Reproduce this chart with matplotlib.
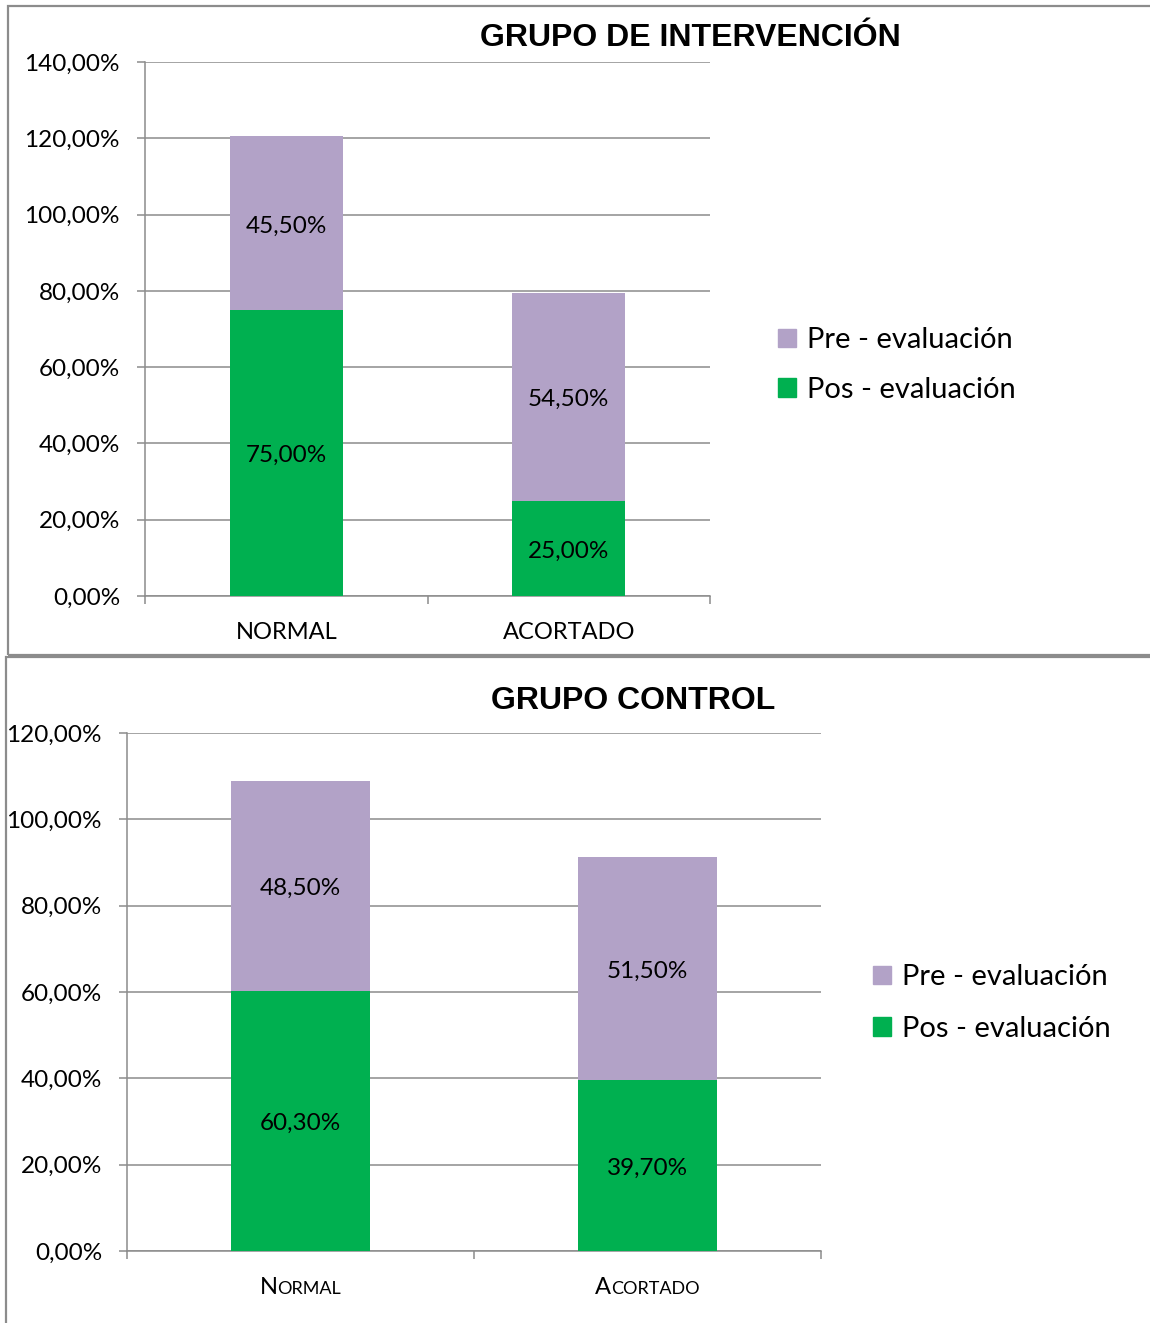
import matplotlib
matplotlib.use("Agg")
import matplotlib.pyplot as plt
from matplotlib.patches import Rectangle, Patch
from matplotlib.ticker import FuncFormatter, FixedLocator
from matplotlib.offsetbox import TextArea, HPacker, AnnotationBbox

plt.rcParams["font.family"] = ["Lato", "DejaVu Sans"]

# data
categories = ["NORMAL", "ACORTADO"]
series_names = ["Pre - evaluación", "Pos - evaluación"]

interv_pos = [75.0, 25.0]
interv_pre = [45.5, 54.5]

control_pos = [60.3, 39.7]
control_pre = [48.5, 51.5]

GREEN = "#00B050"
PURPLE = "#B2A2C7"
GRID = "#8C8C8C"

W, H = 1150, 1323
fig = plt.figure(figsize=(W / 100, H / 100), dpi=100)


def px_axes(x0, y0, x1, y1):
    # pixel box (top-left origin) -> figure fraction
    return fig.add_axes([x0 / W, (H - y1) / H, (x1 - x0) / W, (y1 - y0) / H])


def pct(v, _=None):
    return f"{v:.2f}".replace(".", ",") + "%"


def panel(x0, y0, x1, y1):
    fig.add_artist(Rectangle((x0 / W, (H - y1) / H), (x1 - x0) / W, (y1 - y0) / H,
                             transform=fig.transFigure, fill=False,
                             edgecolor="#8C8C8C", lw=1.6, clip_on=False))


def draw_chart(ax, pos, pre, ymax, title, title_xy, legend_xy, smallcaps, legend_gap):
    x = list(range(len(categories)))
    ax.bar(x, pos, width=0.4, color=GREEN, zorder=3)
    ax.bar(x, pre, width=0.4, bottom=pos, color=PURPLE, zorder=3)
    for xi, p, q in zip(x, pos, pre):
        for yc, v in ((p / 2, p), (p + q / 2, q)):
            ax.annotate(pct(v), (xi, yc), xytext=(0, -2), textcoords="offset points",
                        ha="center", va="center", fontsize=17.5, zorder=4)

    ax.set_xlim(-0.5, len(categories) - 0.5)
    ax.set_ylim(0, ymax)
    ax.yaxis.set_major_locator(FixedLocator(range(0, ymax + 1, 20)))
    ax.yaxis.set_major_formatter(FuncFormatter(pct))
    ax.grid(axis="y", color=GRID, lw=1.1, zorder=0)
    ax.set_axisbelow(True)

    ax.set_xticks(x)
    ax.set_xticklabels([])
    ax.set_xticks([i - 0.5 for i in range(len(categories) + 1)], minor=True)
    ax.tick_params(axis="x", which="major", length=0)
    ax.tick_params(axis="x", which="minor", length=6, color=GRID, width=1.1)
    ax.tick_params(axis="y", length=6, color=GRID, width=1.1, labelsize=17.5, pad=12)

    for s in ("top", "right"):
        ax.spines[s].set_visible(False)
    for s in ("left", "bottom"):
        ax.spines[s].set_color(GRID)
        ax.spines[s].set_linewidth(1.1)

    for xi, name in zip(x, categories):
        if smallcaps:
            parts = [TextArea(name[0], textprops=dict(size=17)),
                     TextArea(name[1:], textprops=dict(size=13))]
        else:
            parts = [TextArea(name, textprops=dict(size=17))]
        box = HPacker(children=parts, align="baseline", pad=0, sep=0)
        ab = AnnotationBbox(box, (xi, 0), xycoords=("data", "axes fraction"),
                            xybox=(0, -26.5), boxcoords="offset points",
                            frameon=False, box_alignment=(0.5, 0.5))
        ax.add_artist(ab)

    fig.text(title_xy[0] / W, 1 - title_xy[1] / H, title, ha="center", va="center",
             fontsize=23, fontweight="bold", family=["Liberation Sans", "DejaVu Sans"])

    handles = [Patch(color=PURPLE), Patch(color=GREEN)]
    fig.legend(handles, series_names, loc="center left",
               bbox_to_anchor=(legend_xy[0] / W, 1 - legend_xy[1] / H),
               frameon=False, fontsize=21, handlelength=0.6, handleheight=0.6,
               handletextpad=0.4, labelspacing=legend_gap, borderpad=0, borderaxespad=0)


panel(8, 6, 1165, 655)
panel(6, 657, 1165, 1335)

ax1 = px_axes(145, 62, 710, 596)
draw_chart(ax1, interv_pos, interv_pre, 140, "GRUPO DE INTERVENCIÓN", (690, 38),
           (778, 365), smallcaps=False, legend_gap=0.8)

ax2 = px_axes(127, 733, 821, 1251)
draw_chart(ax2, control_pos, control_pre, 120, "GRUPO CONTROL", (633, 701),
           (873, 1003), smallcaps=True, legend_gap=0.88)

fig.savefig("out.png", dpi=100)
